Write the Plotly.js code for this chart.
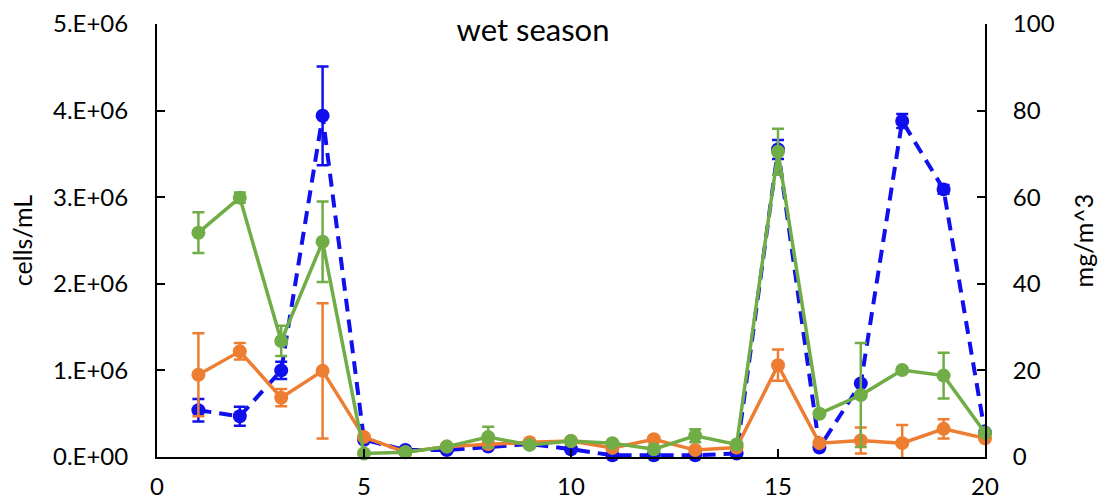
<!DOCTYPE html>
<html>
<head>
<meta charset="utf-8">
<script src="https://cdn.plot.ly/plotly-3.0.1.min.js"></script>
<style>html,body{margin:0;padding:0;background:#fff;}#chart{width:1107px;height:502px;}</style>
</head>
<body>
<div id="chart"></div>
<script>
const stations = [1,2,3,4,5,6,7,8,9,10,11,12,13,14,15,16,17,18,19,20];

// cells/mL (left axis)
const blueValues = [0.54e6,0.47e6,1.0e6,3.94e6,0.2e6,0.08e6,0.08e6,0.12e6,0.15e6,0.09e6,0.02e6,0.02e6,0.02e6,0.04e6,3.55e6,0.11e6,0.85e6,3.88e6,3.09e6,0.28e6];
const blueErrors = [0.13e6,0.11e6,0.1e6,0.57e6,0,0,0,0,0,0,0,0,0,0,0.11e6,0,0,0.08e6,0.05e6,0];

// mg/m^3 (right axis)
const orangeValues = [19.0,24.4,13.7,19.9,4.6,1.1,2.4,3.0,3.4,3.7,2.1,4.1,1.6,2.2,21.2,3.2,3.8,3.2,6.5,4.3];
const orangeErrors = [9.6,1.9,2.0,15.6,0,0,0,0,0,0,0,0,0,0,3.6,0,3.0,4.2,2.2,0];
const greenValues = [51.8,59.9,26.8,49.7,0.8,1.1,2.4,4.6,2.8,3.7,3.2,1.8,4.9,2.9,70.5,10.0,14.3,20.1,18.8,5.6];
const greenErrors = [4.7,1.2,3.5,9.3,0,0,0,2.4,0,0,0,0,1.5,0,5.3,0,12,0,5.3,0];

const leftTickVals = [0,1e6,2e6,3e6,4e6,5e6];
const leftTickText = ["0.E+00","1.E+06","2.E+06","3.E+06","4.E+06","5.E+06"];
const rightTickVals = [0,20,40,60,80,100];
const xTickVals = [0,5,10,15,20];

const FONT = "Lato, 'Open Sans', sans-serif";

const traces = [
  {
    x: stations, y: blueValues, yaxis: 'y', type: 'scatter', mode: 'lines+markers',
    line: {color: '#1010EE', width: 4, dash: '13px,8px'},
    marker: {color: '#1010EE', size: 14},
    error_y: {type: 'data', array: blueErrors, visible: true, color: '#1010EE', thickness: 2.5, width: 6},
    cliponaxis: false, showlegend: false
  },
  {
    x: stations, y: orangeValues, yaxis: 'y2', type: 'scatter', mode: 'lines+markers',
    line: {color: '#ED7D31', width: 3.5},
    marker: {color: '#ED7D31', size: 14},
    error_y: {type: 'data', array: orangeErrors, visible: true, color: '#ED7D31', thickness: 2.5, width: 6},
    cliponaxis: false, showlegend: false
  },
  {
    x: stations, y: greenValues, yaxis: 'y2', type: 'scatter', mode: 'lines+markers',
    line: {color: '#70AD47', width: 3.5},
    marker: {color: '#70AD47', size: 14},
    error_y: {type: 'data', array: greenErrors, visible: true, color: '#70AD47', thickness: 2.5, width: 6},
    cliponaxis: false, showlegend: false
  }
];

const axisCommon = {
  showline: true, linecolor: '#000', linewidth: 2,
  ticks: 'inside', ticklen: 8, tickwidth: 2, tickcolor: '#000',
  showgrid: false, zeroline: false, automargin: false,
  tickfont: {family: FONT, size: 24, color: '#000'}
};

const layout = {
  width: 1107, height: 502,
  margin: {l: 157, r: 122, t: 24, b: 45},
  paper_bgcolor: '#fff', plot_bgcolor: '#fff',
  font: {family: FONT, color: '#000'},
  title: {text: 'wet season', font: {family: FONT, size: 31, color: '#000'},
          xref: 'container', x: 0.4815, xanchor: 'center', yref: 'container', y: 0.94, yanchor: 'middle'},
  xaxis: Object.assign({}, axisCommon, {
    range: [0, 20], tickvals: xTickVals, ticklabelstandoff: 7
  }),
  yaxis: Object.assign({}, axisCommon, {
    range: [0, 5e6], tickvals: leftTickVals, ticktext: leftTickText, ticklabelstandoff: 22,
    title: {text: 'cells/mL', font: {family: FONT, size: 25, color: '#000'}, standoff: 13}
  }),
  yaxis2: Object.assign({}, axisCommon, {
    range: [0, 100], tickvals: rightTickVals, overlaying: 'y', side: 'right', ticklabelstandoff: 21,
    title: {text: 'mg/m^3', font: {family: FONT, size: 25, color: '#000'}, standoff: 22}
  })
};

Plotly.newPlot('chart', traces, layout, {staticPlot: true, displayModeBar: false});
</script>
</body>
</html>
